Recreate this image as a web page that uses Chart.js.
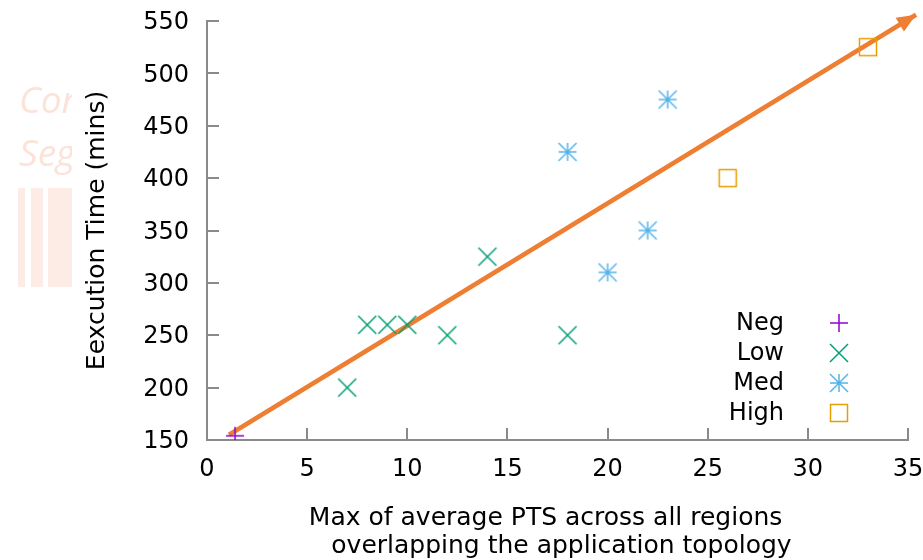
<!DOCTYPE html>
<html>
<head>
<meta charset="utf-8">
<script src="https://cdn.jsdelivr.net/npm/chart.js@4/dist/chart.umd.min.js"></script>
<style>
  html, body { margin: 0; padding: 0; background: #ffffff; }
  #wrap { width: 923px; height: 560px; }
</style>
</head>
<body>
<div id="wrap"><canvas id="c" width="923" height="560"></canvas></div>
<script>
// Max average PTS (x) vs execution time in minutes (y), grouped by level
const negX  = [1.4];
const negY  = [154];
const lowX  = [7, 8, 9, 10, 12, 14, 18];
const lowY  = [200, 260, 260, 260, 250, 325, 250];
const medX  = [18, 20, 22, 23];
const medY  = [425, 310, 350, 475];
const highX = [26, 33];
const highY = [400, 525];

// Trend arrow endpoints
const fitX = [1.1, 35.4];
const fitY = [155, 556];

const seriesNames = ['Neg', 'Low', 'Med', 'High'];
const xTicks = [0, 5, 10, 15, 20, 25, 30, 35];
const yTicks = [150, 200, 250, 300, 350, 400, 450, 500, 550];

const FONT = '"DejaVu Sans", Verdana, sans-serif';
const FONT_SIZE = 24;
const TITLE_SIZE = 25;
const AXIS_GREY = '#8a8a8a';
const colors = { Neg: '#9400d3', Low: '#009e73', Med: '#56b4e9', High: '#e69f00' };
const lineColor = '#ee7e32';

function pairs(xs, ys) { return xs.map((x, i) => ({ x: x, y: ys[i] })); }

// gnuplot-like marker glyphs
function drawMarker(ctx, kind, cx, cy, color) {
  const s = 9;
  ctx.save();
  ctx.strokeStyle = color;
  ctx.lineWidth = 1.5;
  ctx.beginPath();
  if (kind === 'plus' || kind === 'star') {
    ctx.moveTo(cx - s, cy); ctx.lineTo(cx + s, cy);
    ctx.moveTo(cx, cy - s); ctx.lineTo(cx, cy + s);
  }
  if (kind === 'cross' || kind === 'star') {
    ctx.moveTo(cx - s, cy - s); ctx.lineTo(cx + s, cy + s);
    ctx.moveTo(cx - s, cy + s); ctx.lineTo(cx + s, cy - s);
  }
  if (kind === 'square') {
    ctx.rect(cx - s + 0.5, cy - s + 0.5, 2 * s - 1, 2 * s - 1);
  }
  ctx.stroke();
  ctx.restore();
}
function markerCanvas(kind, color) {
  const cv = document.createElement('canvas');
  cv.width = 24; cv.height = 24;
  drawMarker(cv.getContext('2d'), kind, 12, 12, color);
  return cv;
}
const markers = {
  Neg: markerCanvas('plus', colors.Neg),
  Low: markerCanvas('cross', colors.Low),
  Med: markerCanvas('star', colors.Med),
  High: markerCanvas('square', colors.High)
};

function scatterSet(name, xs, ys) {
  return {
    type: 'scatter',
    label: name,
    data: pairs(xs, ys),
    pointStyle: markers[name],
    pointRadius: 9,
    pointHoverRadius: 9,
    borderColor: colors[name],
    backgroundColor: colors[name],
    order: 1
  };
}

// faint background logo fragment on the left margin
const logoPlugin = {
  id: 'logo',
  beforeDraw(chart) {
    const ctx = chart.ctx;
    ctx.save();
    ctx.beginPath();
    ctx.rect(0, 0, 72, 560);
    ctx.clip();
    ctx.fillStyle = '#fdebe5';
    ctx.fillRect(18, 188, 7, 99);
    ctx.fillRect(31, 188, 12, 99);
    ctx.fillRect(48, 188, 26, 99);
    ctx.fillStyle = '#fce3da';
    ctx.font = 'italic 37px "Open Sans", "Noto Sans", sans-serif';
    ctx.textBaseline = 'alphabetic';
    ctx.textAlign = 'left';
    ctx.fillText('Con', 19, 113);
    ctx.fillText('Seg', 19, 166);
    ctx.restore();
  }
};

// inward tick marks like gnuplot
const innerTicks = {
  id: 'innerTicks',
  afterDraw(chart) {
    const ctx = chart.ctx;
    const xs = chart.scales.x, ys = chart.scales.y;
    const a = chart.chartArea;
    ctx.save();
    ctx.strokeStyle = AXIS_GREY;
    ctx.lineWidth = 2;
    ctx.beginPath();
    xTicks.forEach(v => {
      const px = Math.round(xs.getPixelForValue(v));
      ctx.moveTo(px, a.bottom); ctx.lineTo(px, a.bottom - 12);
    });
    yTicks.forEach(v => {
      const py = Math.round(ys.getPixelForValue(v));
      ctx.moveTo(a.left, py); ctx.lineTo(a.left + 12, py);
    });
    ctx.stroke();
    ctx.restore();
  }
};

// arrow head at the end of the trend line
const arrowHead = {
  id: 'arrowHead',
  afterDatasetsDraw(chart) {
    const idx = chart.data.datasets.findIndex(d => d.id === 'trend');
    const meta = chart.getDatasetMeta(idx);
    if (!meta || meta.data.length < 2) return;
    const p0 = meta.data[0], p1 = meta.data[meta.data.length - 1];
    const ang = Math.atan2(p1.y - p0.y, p1.x - p0.x);
    const len = 19, half = 8;
    const ctx = chart.ctx;
    ctx.save();
    ctx.fillStyle = lineColor;
    ctx.beginPath();
    ctx.moveTo(p1.x, p1.y);
    ctx.lineTo(p1.x - len * Math.cos(ang) - half * Math.sin(ang), p1.y - len * Math.sin(ang) + half * Math.cos(ang));
    ctx.lineTo(p1.x - len * Math.cos(ang) + half * Math.sin(ang), p1.y - len * Math.sin(ang) - half * Math.cos(ang));
    ctx.closePath();
    ctx.fill();
    ctx.restore();
  }
};

// key in the lower right: label, then symbol
const keyPlugin = {
  id: 'key',
  afterDraw(chart) {
    const ctx = chart.ctx;
    ctx.save();
    ctx.font = FONT_SIZE + 'px ' + FONT;
    ctx.fillStyle = '#000';
    ctx.textAlign = 'right';
    ctx.textBaseline = 'middle';
    seriesNames.forEach((name, i) => {
      const y = 324 + 30 * i;
      ctx.fillText(name, 784, y);
      ctx.drawImage(markers[name], 839 - 12, y - 1 - 12);
    });
    ctx.restore();
  }
};

new Chart(document.getElementById('c'), {
  data: {
    datasets: [
      {
        id: 'trend',
        type: 'line',
        label: 'trend',
        data: pairs(fitX, fitY),
        borderColor: lineColor,
        borderWidth: 4.5,
        pointRadius: 0,
        pointHoverRadius: 0,
        fill: false,
        clip: false,
        order: 2
      },
      scatterSet('Neg', negX, negY),
      scatterSet('Low', lowX, lowY),
      scatterSet('Med', medX, medY),
      scatterSet('High', highX, highY)
    ]
  },
  options: {
    responsive: false,
    animation: false,
    devicePixelRatio: 1,
    layout: { padding: { top: 21, right: 15, left: 0, bottom: 0 } },
    plugins: {
      legend: { display: false },
      tooltip: { enabled: false }
    },
    scales: {
      x: {
        type: 'linear',
        min: 0, max: 35,
        afterBuildTicks(scale) { scale.ticks = xTicks.map(v => ({ value: v })); },
        afterFit(scale) { scale.height = 120; scale.paddingLeft = 0; scale.paddingRight = 0; },
        grid: { display: false, drawTicks: false },
        border: { display: true, color: AXIS_GREY, width: 2 },
        ticks: { color: '#000', font: { family: FONT, size: FONT_SIZE }, padding: 15, maxRotation: 0 },
        title: {
          display: true,
          text: ['Max of average PTS across all regions   ', ' overlapping the application topology'],
          color: '#000',
          font: { family: FONT, size: TITLE_SIZE, lineHeight: 1.12 },
          padding: { top: 0, bottom: 0 }
        }
      },
      y: {
        type: 'linear',
        min: 150, max: 550,
        afterBuildTicks(scale) { scale.ticks = yTicks.map(v => ({ value: v })); },
        afterFit(scale) { scale.width = 207; scale.paddingTop = 0; scale.paddingBottom = 0; },
        grid: { display: false, drawTicks: false },
        border: { display: true, color: AXIS_GREY, width: 2 },
        ticks: { color: '#000', font: { family: FONT, size: FONT_SIZE }, padding: 18, labelOffset: 2 },
        title: {
          display: true,
          text: 'Eexcution Time (mins)',
          color: '#000',
          font: { family: FONT, size: TITLE_SIZE, lineHeight: 1.12 },
          padding: { top: 83, bottom: 0 }
        }
      }
    }
  },
  plugins: [logoPlugin, innerTicks, arrowHead, keyPlugin]
});
</script>
</body>
</html>
